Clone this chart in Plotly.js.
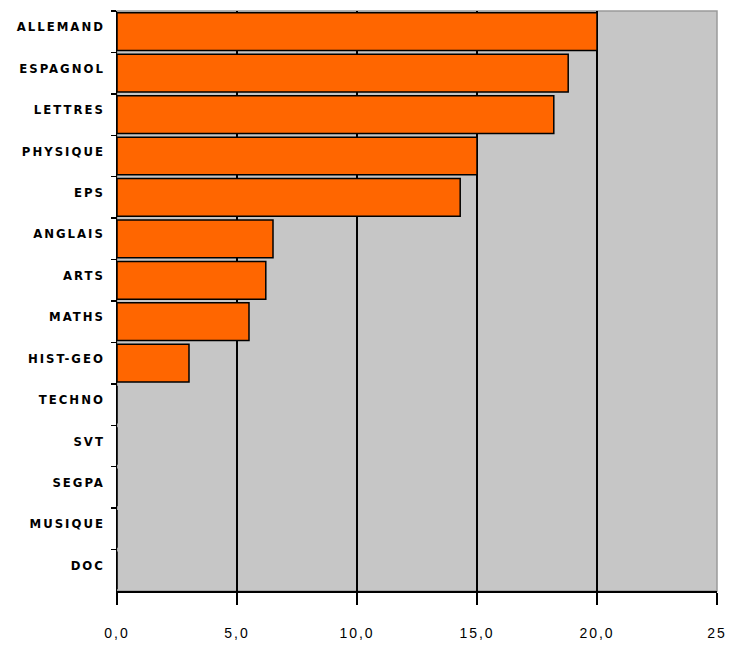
<!DOCTYPE html>
<html>
<head>
<meta charset="utf-8">
<script src="https://cdn.plot.ly/plotly-3.0.1.min.js"></script>
<style>
html,body{margin:0;padding:0;background:#fff;}
#chart{width:733px;height:645px;}
#chart .ytick text{letter-spacing:2px;}
#chart .xtick text{letter-spacing:2px;}
</style>
</head>
<body>
<div id="chart"></div>
<script>
var categories = ["ALLEMAND","ESPAGNOL","LETTRES","PHYSIQUE","EPS","ANGLAIS","ARTS","MATHS","HIST-GEO","TECHNO","SVT","SEGPA","MUSIQUE","DOC"];
var values = [20.0, 18.8, 18.2, 15.0, 14.3, 6.5, 6.2, 5.5, 3.0, 0, 0, 0, 0, 0];
var xTickVals = [0, 5, 10, 15, 20, 25];
var xTickText = ["0,0", "5,0", "10,0", "15,0", "20,0", "25"];

var trace = {
  type: "bar",
  orientation: "h",
  y: categories,
  x: values,
  marker: {color: "#ff6600", line: {color: "#000000", width: 1.5}},
  hoverinfo: "x+y"
};

var layout = {
  width: 733, height: 645,
  margin: {l: 117, r: 16, t: 11, b: 54, pad: 0},
  paper_bgcolor: "#ffffff",
  plot_bgcolor: "#c6c6c6",
  showlegend: false,
  bargap: 0.09,
  font: {family: "Liberation Sans, Arial, sans-serif", color: "#000"},
  xaxis: {
    range: [0, 25],
    tickvals: xTickVals,
    ticktext: xTickText,
    showgrid: true,
    gridcolor: "#000000",
    gridwidth: 1.5,
    zeroline: false,
    showline: true,
    linecolor: "#000000",
    linewidth: 1.5,
    ticks: "outside",
    ticklen: 12,
    tickwidth: 1.5,
    tickcolor: "#000",
    ticklabelstandoff: 17,
    tickfont: {size: 14, color: "#000"},
    fixedrange: true
  },
  yaxis: {
    type: "category",
    autorange: "reversed",
    showgrid: false,
    zeroline: false,
    showline: true,
    linecolor: "#000000",
    linewidth: 1.5,
    ticks: "outside",
    tickson: "boundaries",
    ticklen: 5,
    tickwidth: 1.5,
    tickcolor: "#000",
    ticklabelstandoff: 8,
    ticklabelshift: 5,
    tickfont: {family: "DejaVu Sans Condensed, Liberation Sans Narrow, Liberation Sans, sans-serif", size: 13, color: "#000", weight: "bold"},
    fixedrange: true
  },
  shapes: [{
    type: "rect", xref: "paper", yref: "paper", x0: 0, x1: 1, y0: 0, y1: 1,
    line: {color: "#9a9a9a", width: 1.5}, layer: "below", fillcolor: "rgba(0,0,0,0)"
  }]
};

Plotly.newPlot("chart", [trace], layout, {displayModeBar: false, staticPlot: true});
</script>
</body>
</html>
